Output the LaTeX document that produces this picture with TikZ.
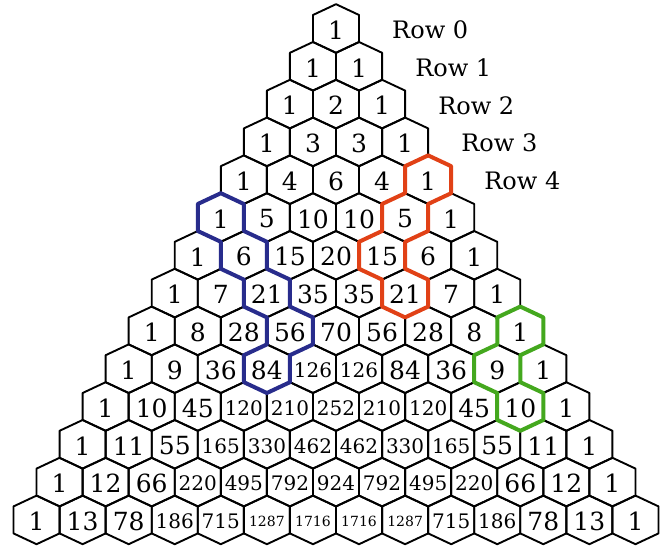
\documentclass[tikz,border=0pt]{standalone}
\usepackage{fontspec}
\setmainfont{DejaVu Serif}
\usepackage{tikz}
\usetikzlibrary{positioning}
\usepackage{xcolor}
\definecolor{stickblue}{RGB}{40, 44, 140}
\definecolor{stickred}{RGB}{225, 65, 22}
\definecolor{stickgreen}{RGB}{68, 168, 30}

\begin{document}
\begin{tikzpicture}[x=1pt, y=-1pt,
  hexline/.style={draw=black, line width=1.9pt, line join=round},
  stick/.style={line width=4pt, line join=round},
  rowlabel/.style={anchor=base west, inner sep=0pt, font=\fontsize{24}{24}\selectfont}]
\useasboundingbox (0,0) rectangle (668,548);

% hexagon cells, one row of the triangle per line
\foreach \r/\vals in {0/{1}, 1/{1,1}, 2/{1,2,1}, 3/{1,3,3,1}, 4/{1,4,6,4,1},
    5/{1,5,10,10,5,1}, 6/{1,6,15,20,15,6,1}, 7/{1,7,21,35,35,21,7,1},
    8/{1,8,28,56,70,56,28,8,1}, 9/{1,9,36,84,126,126,84,36,9,1},
    10/{1,10,45,120,210,252,210,120,45,10,1},
    11/{1,11,55,165,330,462,462,330,165,55,11,1},
    12/{1,12,66,220,495,792,924,792,495,220,66,12,1},
    13/{1,13,78,186,715,1287,1716,1716,1287,715,186,78,13,1}}{
  \foreach \v [count=\k from 0] in \vals {
    \pgfmathsetmacro\cx{336+(\k-\r/2)*46.07}
    \pgfmathsetmacro\cy{28.5+\r*37.8}
    \path (\cx,\cy) coordinate (h-\r-\k)
      +(0,-24.3) coordinate (h-\r-\k-t)
      +(23.04,-13.5) coordinate (h-\r-\k-ur)
      +(23.04,13.5) coordinate (h-\r-\k-lr)
      +(0,24.3) coordinate (h-\r-\k-b)
      +(-23.04,13.5) coordinate (h-\r-\k-ll)
      +(-23.04,-13.5) coordinate (h-\r-\k-ul);
    \draw[hexline] (h-\r-\k-t) -- (h-\r-\k-ur) -- (h-\r-\k-lr) -- (h-\r-\k-b)
      -- (h-\r-\k-ll) -- (h-\r-\k-ul) -- cycle;
    \ifnum\v<100 \def\nf{\fontsize{25}{25}\selectfont}
    \else\ifnum\v<1000 \def\nf{\fontsize{20}{20}\selectfont}
    \else \def\nf{\fontsize{14}{14}\selectfont}\fi\fi
    \node[font=\nf, inner sep=0pt, yshift=-1.5pt] (n-\r-\k) at (h-\r-\k) {\v};
  }
}

% row labels
\foreach \r in {0,...,4}
  \node[rowlabel] (row\r) at ([xshift=33pt, yshift=3.5pt]h-\r-\r-lr) {Row \r};

% hockey sticks
\draw[stick, stickblue] (h-5-0-t) -- (h-5-0-ur) -- (h-5-0-lr) -- (h-6-1-ur) -- (h-6-1-lr)
  -- (h-7-2-ur) -- (h-7-2-lr) -- (h-8-3-ur) -- (h-8-3-lr) -- (h-8-3-b) -- (h-9-3-lr)
  -- (h-9-3-b) -- (h-9-3-ll) -- (h-9-3-ul) -- (h-9-3-t) -- (h-8-3-ul) -- (h-7-2-ll)
  -- (h-7-2-ul) -- (h-6-1-ll) -- (h-6-1-ul) -- (h-5-0-ll) -- (h-5-0-ul) -- cycle;
\draw[stick, stickred] (h-4-4-t) -- (h-4-4-ur) -- (h-4-4-lr) -- (h-4-4-b) -- (h-5-4-lr)
  -- (h-5-4-b) -- (h-6-4-lr) -- (h-7-5-ur) -- (h-7-5-lr) -- (h-7-5-b) -- (h-7-5-ll)
  -- (h-7-5-ul) -- (h-6-4-ll) -- (h-6-4-ul) -- (h-6-4-t) -- (h-5-4-ul) -- (h-5-4-t)
  -- (h-4-4-ul) -- cycle;
\draw[stick, stickgreen] (h-8-8-t) -- (h-8-8-ur) -- (h-8-8-lr) -- (h-8-8-b) -- (h-9-8-lr)
  -- (h-10-9-ur) -- (h-10-9-lr) -- (h-10-9-b) -- (h-10-9-ll) -- (h-10-9-ul) -- (h-9-8-ll)
  -- (h-9-8-ul) -- (h-9-8-t) -- (h-8-8-ul) -- cycle;
\end{tikzpicture}
\end{document}
